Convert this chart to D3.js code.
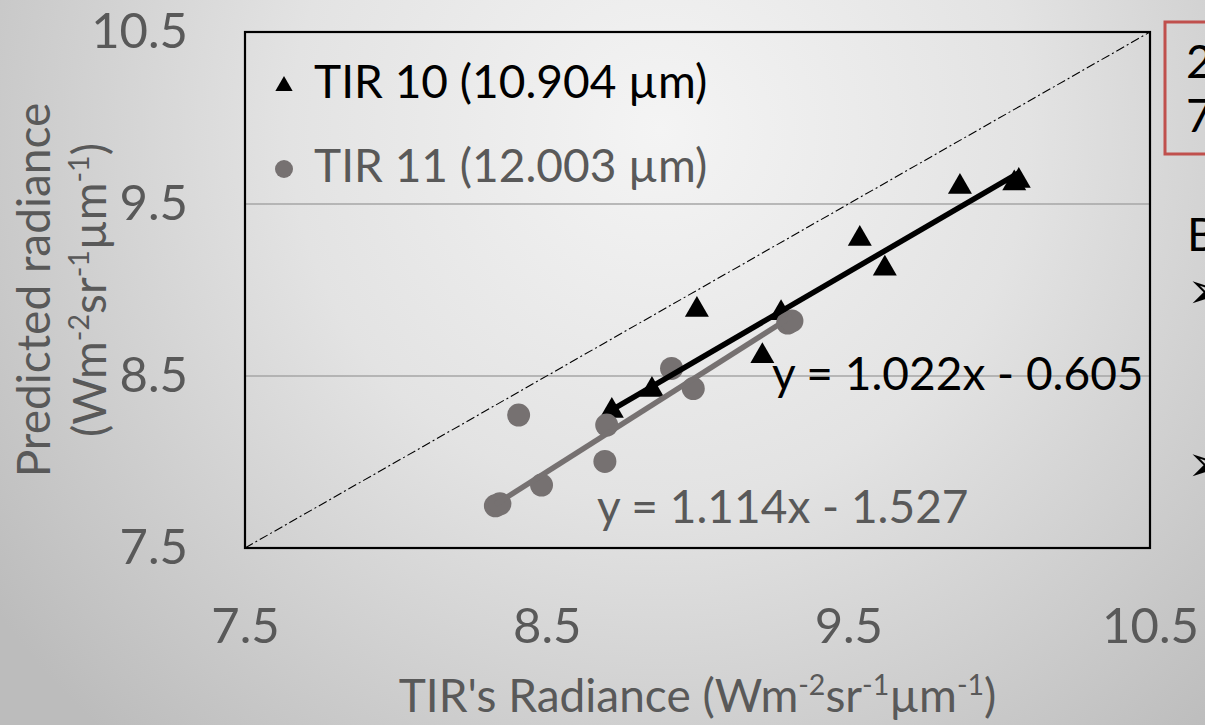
<!DOCTYPE html>
<html>
<head>
<meta charset="utf-8">
<script src="https://cdn.jsdelivr.net/npm/d3@7"></script>
<style>
  html, body { margin: 0; padding: 0; overflow: hidden; }
  svg { display: block; }
</style>
</head>
<body>
<svg id="chart" width="1205" height="725"></svg>
<script>
// ---------------- data ----------------
const xTickValues = [7.5, 8.5, 9.5, 10.5];
const yTickValues = [7.5, 8.5, 9.5, 10.5];
const gridValues = [8.5, 9.5];

const seriesNames = ["TIR 10 (10.904 \u00b5m)", "TIR 11 (12.003 \u00b5m)"];

// TIR 10 (triangles)
const tir10X = [8.716, 8.849, 8.998, 9.215, 9.277, 9.538, 9.621, 9.870, 10.050, 10.065];
const tir10Y = [8.297, 8.419, 8.885, 8.616, 8.866, 9.298, 9.124, 9.600, 9.620, 9.634];

// TIR 11 (circles)
const tir11X = [8.330, 8.345, 8.483, 8.407, 8.693, 8.699, 8.914, 8.986, 9.299, 9.313];
const tir11Y = [7.745, 7.757, 7.866, 8.273, 8.003, 8.215, 8.544, 8.427, 8.808, 8.820];

const fitSlopes = [1.022, 1.114];
const fitIntercepts = [-0.605, -1.527];

// ---------------- layout ----------------
const W = 1205, H = 725;
const plot = { left: 245, right: 1150, top: 32, bottom: 548 };
const tickFont = 49, textFont = 46;
const grey = "#595959", markGrey = "#767171";

const svg = d3.select("#chart");
const defs = svg.append("defs");
const grad = defs.append("radialGradient").attr("id", "bg")
  .attr("gradientUnits", "userSpaceOnUse")
  .attr("cx", 660).attr("cy", 130).attr("r", 820);
grad.append("stop").attr("offset", "0%").attr("stop-color", "#f4f4f4");
grad.append("stop").attr("offset", "45%").attr("stop-color", "#e3e3e3");
grad.append("stop").attr("offset", "100%").attr("stop-color", "#bcbcbc");
svg.append("rect").attr("width", W).attr("height", H).attr("fill", "url(#bg)");

const x = d3.scaleLinear().domain([7.5, 10.5]).range([plot.left, plot.right]);
const y = d3.scaleLinear().domain([7.5, 10.5]).range([plot.bottom, plot.top]);

// gridlines
svg.append("g").selectAll("line").data(gridValues).join("line")
  .attr("x1", plot.left).attr("x2", plot.right)
  .attr("y1", d => y(d)).attr("y2", d => y(d))
  .attr("stroke", "#a6a6a6").attr("stroke-width", 1.5);

// 1:1 line
svg.append("line")
  .attr("x1", x(7.5)).attr("y1", y(7.5)).attr("x2", x(10.5)).attr("y2", y(10.5))
  .attr("stroke", "#000").attr("stroke-width", 1.1)
  .attr("stroke-dasharray", "9,3,2,3");

// axes
const yAxis = d3.axisLeft(y).tickValues(yTickValues).tickSize(0).tickPadding(57)
  .tickFormat(d3.format(".1f"));
const gy = svg.append("g").attr("transform", `translate(${plot.left},0)`).call(yAxis);
gy.select(".domain").remove();
gy.selectAll("text").attr("font-family", "Lato").attr("font-size", tickFont).attr("fill", grey);

const xAxis = d3.axisBottom(x).tickValues(xTickValues).tickSize(0).tickPadding(60)
  .tickFormat(d3.format(".1f"));
const gx = svg.append("g").attr("transform", `translate(0,${plot.bottom})`).call(xAxis);
gx.select(".domain").remove();
gx.selectAll("text").attr("font-family", "Lato").attr("font-size", tickFont).attr("fill", grey)
  .attr("dy", "0.71em");

// markers
const tri = d3.symbol().type(d3.symbolTriangle).size(249);
const pts10 = tir10X.map((v, i) => ({ x: v, y: tir10Y[i] }));
const pts11 = tir11X.map((v, i) => ({ x: v, y: tir11Y[i] }));

svg.append("g").selectAll("path").data(pts10).join("path")
  .attr("d", tri).attr("transform", d => `translate(${x(d.x)},${y(d.y)})`)
  .attr("fill", "#000");

svg.append("g").selectAll("circle").data(pts11).join("circle")
  .attr("cx", d => x(d.x)).attr("cy", d => y(d.y)).attr("r", 11.5)
  .attr("fill", markGrey);

// trend lines
const series = [
  { pts: pts11, slope: fitSlopes[1], intercept: fitIntercepts[1], color: markGrey },
  { pts: pts10, slope: fitSlopes[0], intercept: fitIntercepts[0], color: "#000" }
];
series.forEach(s => {
  const [x0, x1] = d3.extent(s.pts, d => d.x);
  svg.append("line")
    .attr("x1", x(x0)).attr("y1", y(s.slope * x0 + s.intercept))
    .attr("x2", x(x1)).attr("y2", y(s.slope * x1 + s.intercept))
    .attr("stroke", s.color).attr("stroke-width", 5.5);
});

// plot border
svg.append("rect")
  .attr("x", plot.left).attr("y", plot.top)
  .attr("width", plot.right - plot.left).attr("height", plot.bottom - plot.top)
  .attr("fill", "none").attr("stroke", "#000").attr("stroke-width", 2.2);

// equations
const eqText = (m, b) => `y = ${d3.format(".3f")(m)}x - ${d3.format(".3f")(Math.abs(b))}`;
svg.append("text").attr("x", 772).attr("y", 390)
  .attr("font-family", "Lato").attr("font-size", textFont).attr("fill", "#000")
  .text(eqText(fitSlopes[0], fitIntercepts[0]));
svg.append("text").attr("x", 597).attr("y", 523)
  .attr("font-family", "Lato").attr("font-size", textFont).attr("fill", grey)
  .text(eqText(fitSlopes[1], fitIntercepts[1]));

// legend
const leg = svg.append("g");
leg.append("path").attr("d", d3.symbol().type(d3.symbolTriangle).size(130))
  .attr("transform", "translate(284,86)").attr("fill", "#000");
leg.append("text").attr("x", 314).attr("y", 98)
  .attr("font-family", "Lato").attr("font-size", textFont).attr("fill", "#000")
  .text(seriesNames[0]);
leg.append("circle").attr("cx", 284).attr("cy", 169).attr("r", 9).attr("fill", markGrey);
leg.append("text").attr("x", 314).attr("y", 182)
  .attr("font-family", "Lato").attr("font-size", textFont).attr("fill", grey)
  .text(seriesNames[1]);

// axis titles with superscripts
function unitText(sel) {
  const parts = [["(Wm", 0], ["-2", 1], ["sr", 0], ["-1", 1], ["\u00b5m", 0], ["-1", 1], [")", 0]];
  parts.forEach(([t, sup]) => {
    sel.append("tspan").text(t)
      .attr("font-size", sup ? textFont * 0.62 : textFont)
      .attr("baseline-shift", sup ? "super" : "baseline");
  });
}
const xt = svg.append("text").attr("x", (plot.left + plot.right) / 2).attr("y", 712)
  .attr("text-anchor", "middle").attr("font-family", "Lato").attr("font-size", textFont)
  .attr("fill", grey);
xt.append("tspan").text("TIR's Radiance ");
unitText(xt);

const yc = (plot.top + plot.bottom) / 2;
svg.append("text").attr("transform", `translate(50,${yc}) rotate(-90)`)
  .attr("text-anchor", "middle").attr("font-family", "Lato").attr("font-size", textFont)
  .attr("fill", grey).text("Predicted radiance");
const yt2 = svg.append("text").attr("transform", `translate(106,${yc}) rotate(-90)`)
  .attr("text-anchor", "middle").attr("font-family", "Lato").attr("font-size", textFont)
  .attr("fill", grey);
unitText(yt2);

// slide text at right edge (cut off, as in the reference)
svg.append("rect").attr("x", 1165).attr("y", 22).attr("width", 80).attr("height", 132)
  .attr("fill", "none").attr("stroke", "#c0504d").attr("stroke-width", 3);
const side = svg.append("g").attr("font-family", "Lato").attr("font-size", textFont).attr("fill", "#000");
side.append("text").attr("x", 1186).attr("y", 78).text("2");
side.append("text").attr("x", 1186).attr("y", 132).text("7");
side.append("text").attr("x", 1187).attr("y", 251).text("B");
side.append("text").attr("x", 1187).attr("y", 308).attr("font-family", "DejaVu Sans").attr("font-size", 50).text("\u27a2");
side.append("text").attr("x", 1187).attr("y", 481).attr("font-family", "DejaVu Sans").attr("font-size", 50).text("\u27a2");
</script>
</body>
</html>
